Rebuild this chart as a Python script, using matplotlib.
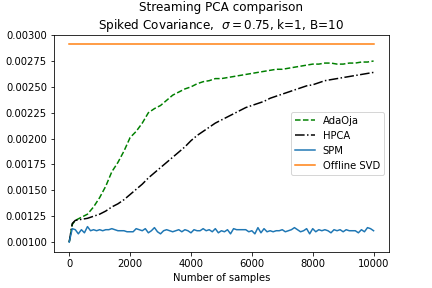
import numpy as np
import matplotlib
matplotlib.use("Agg")
import matplotlib.pyplot as plt

# sample counts for the smooth curves
samples = [0, 100, 200, 400, 600, 800, 1000, 1200, 1400, 1600, 1800, 2000,
           2200, 2400, 2600, 2800, 3000, 3200, 3400, 3600, 3800, 4000, 4200,
           4400, 4600, 4800, 5000, 5200, 5400, 5600, 5800, 6000, 6200, 6400,
           6600, 6800, 7000, 7200, 7400, 7600, 7800, 8000, 8200, 8400, 8600,
           8800, 9000, 9200, 9400, 9600, 9800, 10000]

adaoja = [0.00100, 0.00117, 0.00121, 0.00124, 0.00127, 0.00134, 0.00143,
          0.00154, 0.00168, 0.00177, 0.00188, 0.00201, 0.00207, 0.00215,
          0.00225, 0.00229, 0.00232, 0.00237, 0.00242, 0.00245, 0.00248,
          0.00250, 0.00253, 0.00255, 0.00256, 0.00258, 0.00258, 0.00259,
          0.00260, 0.00261, 0.00262, 0.00263, 0.00264, 0.00265, 0.00266,
          0.00267, 0.00267, 0.00268, 0.00269, 0.00270, 0.00271, 0.00272,
          0.00272, 0.00273, 0.00273, 0.00272, 0.00272, 0.00273, 0.00273,
          0.00274, 0.00274, 0.00275]

hpca = [0.00100, 0.00118, 0.00121, 0.00122, 0.00123, 0.00125, 0.00127,
        0.00130, 0.00134, 0.00137, 0.00141, 0.00146, 0.00151, 0.00156,
        0.00162, 0.00167, 0.00172, 0.00177, 0.00182, 0.00187, 0.00192,
        0.00198, 0.00203, 0.00207, 0.00211, 0.00215, 0.00218, 0.00221,
        0.00224, 0.00227, 0.00230, 0.00232, 0.00234, 0.00236, 0.00239,
        0.00241, 0.00243, 0.00245, 0.00247, 0.00249, 0.00251, 0.00252,
        0.00254, 0.00256, 0.00257, 0.00258, 0.00259, 0.00260, 0.00261,
        0.00262, 0.00263, 0.00264]

# SPM, one value every 100 samples from 0 to 10000
spm = [0.00100, 0.00113, 0.00112, 0.00108, 0.00112, 0.00109, 0.00115,
       0.00111, 0.00112, 0.00111, 0.00112, 0.00111, 0.00112, 0.00112,
       0.00113, 0.00112, 0.00111, 0.00111, 0.00111, 0.00110, 0.00110,
       0.00110, 0.00113, 0.00112, 0.00111, 0.00113, 0.00109, 0.00111,
       0.00114, 0.00110, 0.00108, 0.00111, 0.00112, 0.00111, 0.00110,
       0.00111, 0.00112, 0.00110, 0.00112, 0.00111, 0.00109, 0.00112,
       0.00111, 0.00111, 0.00113, 0.00111, 0.00112, 0.00110, 0.00113,
       0.00109, 0.00111, 0.00110, 0.00112, 0.00108, 0.00113, 0.00112,
       0.00112, 0.00112, 0.00112, 0.00110, 0.00111, 0.00108, 0.00114,
       0.00109, 0.00113, 0.00110, 0.00111, 0.00110, 0.00111, 0.00111,
       0.00112, 0.00110, 0.00111, 0.00112, 0.00114, 0.00112, 0.00110,
       0.00111, 0.00113, 0.00108, 0.00113, 0.00110, 0.00112, 0.00111,
       0.00112, 0.00111, 0.00109, 0.00112, 0.00111, 0.00112, 0.00110,
       0.00112, 0.00111, 0.00111, 0.00111, 0.00109, 0.00112, 0.00110,
       0.00114, 0.00113, 0.00111]
spm_samples = np.linspace(0, 10000, len(spm))

svd_value = 0.00291
svd_samples = [0, 10000]

fig, ax = plt.subplots(figsize=(6, 4), dpi=72)
ax.plot(samples, adaoja, "g--", label="AdaOja")
ax.plot(samples, hpca, "k-.", label="HPCA")
ax.plot(spm_samples, spm, color="C0", label="SPM")
ax.plot(svd_samples, [svd_value, svd_value], color="C1", label="Offline SVD")

ax.set_xlabel("Number of samples")
ax.set_title("Streaming PCA comparison\nSpiked Covariance,  $\\sigma=0.75$, k=1, B=10")
ax.legend(loc="center right")
fig.subplots_adjust(bottom=0.125)
fig.savefig("out.png", dpi=72)
